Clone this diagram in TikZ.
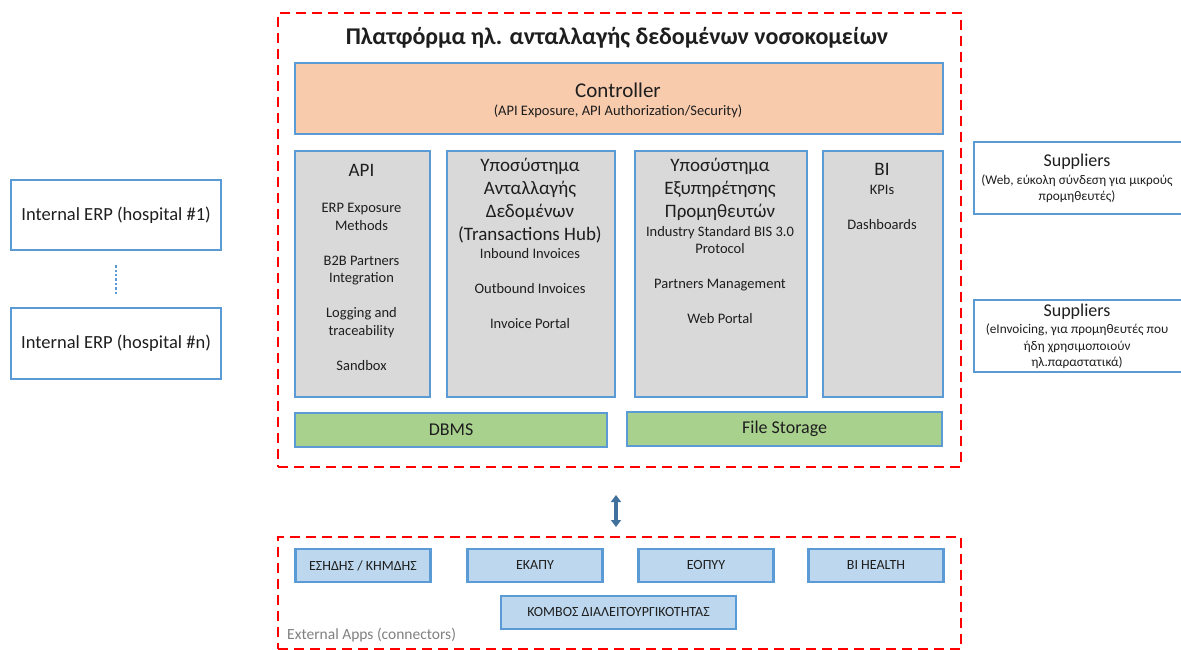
\documentclass[tikz,border=0pt]{standalone}
\usepackage{fontspec}
\setmainfont{Carlito}
\usetikzlibrary{arrows.meta}
\definecolor{boxblue}{HTML}{5B9BD5}
\definecolor{ctrlfill}{HTML}{F8CBAD}
\definecolor{colgray}{HTML}{D9D9D9}
\definecolor{dbgreen}{HTML}{A9D18E}
\definecolor{appblue}{HTML}{BDD7EE}
\definecolor{arrowblue}{HTML}{41719C}
\definecolor{txt}{HTML}{1E1E1E}
\begin{document}
\begin{tikzpicture}[x=1pt,y=-1pt,
    box_node/.style={draw=boxblue,line width=2.2pt,anchor=north west,inner sep=0pt,text=txt},
    col_node/.style={box_node,fill=colgray,minimum height=246pt},
    frame_node/.style={draw=red,line width=2.4pt,dash pattern=on 10pt off 6pt,anchor=north west,inner sep=0pt},
    app_node/.style={box_node,fill=appblue,anchor=center,minimum width=135pt,minimum height=33pt,font=\fontsize{14}{16}\selectfont},
    head_txt/.style={align=center,inner sep=0pt,text=txt,font=\fontsize{19}{23}\selectfont},
    body_txt/.style={align=center,inner sep=0pt,text=txt,font=\fontsize{14.5}{17.5}\selectfont}]

    \useasboundingbox (0,0) rectangle (1181,650);

    % platform
    \node[frame_node, minimum width=683pt, minimum height=454pt] (platform) at (277,12) {};
    \node[inner sep=0pt, text=txt, font=\fontsize{24}{28}\selectfont\bfseries] (title) at (617,38) {Πλατφόρμα ηλ. ανταλλαγής δεδομένων νοσοκομείων};

    \node[box_node, fill=ctrlfill, minimum width=648pt, minimum height=71pt] (ctrl) at (294,62) {};
    \node[head_txt, font=\fontsize{21}{24}\selectfont] (ctrlhead) at (618,90) {Controller};
    \node[body_txt] (ctrlbody) at (618,111) {(API Exposure, API Authorization/Security)};

    \node[col_node, minimum width=135pt] (api) at (294,150) {};
    \node[col_node, minimum width=168pt] (hub) at (446,150) {};
    \node[col_node, minimum width=172pt] (supp) at (634,150) {};
    \node[col_node, minimum width=120pt] (bi) at (822,150) {};

    \node[head_txt] (apihead) at (361.5,170) {API};
    \node[body_txt] (apibody) at (361.5,287) {ERP Exposure\\Methods\\[17.5pt]B2B Partners\\Integration\\[17.5pt]Logging and\\traceability\\[17.5pt]Sandbox};
    \node[head_txt] (hubhead) at (530,200.5) {Υποσύστημα\\Ανταλλαγής\\Δεδομένων\\(Transactions Hub)};
    \node[body_txt] (hubbody) at (530,289) {Inbound Invoices\\[17.5pt]Outbound Invoices\\[17.5pt]Invoice Portal};
    \node[head_txt] (supphead) at (720,189) {Υποσύστημα\\Εξυπηρέτησης\\Προμηθευτών};
    \node[body_txt] (suppbody) at (720,275) {Industry Standard BIS 3.0\\Protocol\\[17.5pt]Partners Management\\[17.5pt]Web Portal};
    \node[head_txt] (bihead) at (882,169) {BI};
    \node[body_txt] (bibody) at (882,207.5) {KPIs\\[17.5pt]Dashboards};

    \node[box_node, fill=dbgreen, minimum width=312pt, minimum height=34pt, font=\fontsize{18}{20}\selectfont] (dbms) at (294,412) {DBMS};
    \node[box_node, fill=dbgreen, minimum width=315pt, minimum height=34pt, font=\fontsize{18}{20}\selectfont] (files) at (626,411) {File Storage};

    % external apps
    \node[frame_node, minimum width=683pt, minimum height=112pt] (extapps) at (277,536) {};
    \node[app_node] (esidis) at (363,565.5) {ΕΣΗΔΗΣ / ΚΗΜΔΗΣ};
    \node[app_node] (ekapy) at (535,565.5) {ΕΚΑΠΥ};
    \node[app_node] (eopyy) at (706,565.5) {ΕΟΠΥΥ};
    \node[app_node] (bihealth) at (876,565.5) {BI HEALTH};
    \node[app_node, minimum width=235pt] (komvos) at (618.5,612.5) {ΚΟΜΒΟΣ ΔΙΑΛΕΙΤΟΥΡΓΙΚΟΤΗΤΑΣ};
    \node[anchor=west, inner sep=0pt, text=gray, font=\fontsize{15.5}{18}\selectfont] (extlabel) at (287,635) {External Apps (connectors)};

    \coordinate (arrtop) at (616,495);
    \coordinate (arrbot) at (616,527);
    \draw[arrowblue, line width=3.5pt, {Triangle[width=10pt,length=7pt]}-{Triangle[width=10pt,length=7pt]}] (arrtop) -- (arrbot);

    % hospitals
    \node[box_node, minimum width=210pt, minimum height=70pt, font=\fontsize{18.5}{21}\selectfont] (erp1) at (10,179) {Internal ERP (hospital \#1)};
    \node[box_node, minimum width=210pt, minimum height=71pt, font=\fontsize{18.5}{21}\selectfont] (erpn) at (10,307) {Internal ERP (hospital \#n)};
    \draw[boxblue, line width=2.4pt, dash pattern=on 2.4pt off 2pt, shorten <=14pt, shorten >=13pt] (erp1) -- (erpn);

    % suppliers
    \node[box_node, minimum width=210pt, minimum height=72pt] (suppweb) at (973,141) {};
    \node[head_txt, font=\fontsize{18}{20}\selectfont] (suppwebhead) at (1077,162) {Suppliers};
    \node[body_txt, font=\fontsize{13.3}{16}\selectfont] (suppwebbody) at (1077,189) {(Web, εύκολη σύνδεση για μικρούς\\προμηθευτές)};
    \node[box_node, minimum width=210pt, minimum height=72pt] (suppinv) at (973,299) {};
    \node[head_txt, font=\fontsize{18}{20}\selectfont] (suppinvhead) at (1077,312) {Suppliers};
    \node[body_txt, font=\fontsize{13.3}{16.5}\selectfont] (suppinvbody) at (1077,346.5) {(eInvoicing, για προμηθευτές που\\ήδη χρησιμοποιούν\\ηλ.παραστατικά)};
\end{tikzpicture}
\end{document}
